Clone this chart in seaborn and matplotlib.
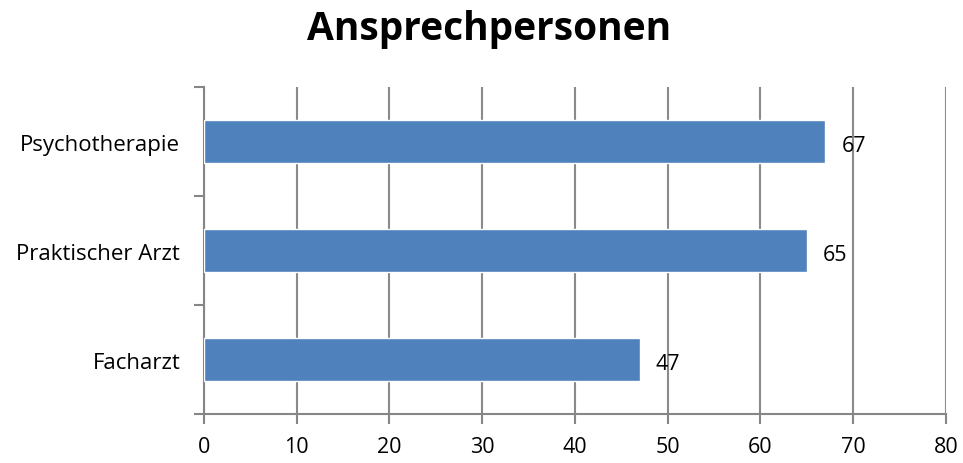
import matplotlib
matplotlib.use("Agg")
import matplotlib.pyplot as plt
import seaborn as sns
import pandas as pd
import numpy as np

categories = ["Psychotherapie", "Praktischer Arzt", "Facharzt"]
values = [67, 65, 47]
xticks = [0, 10, 20, 30, 40, 50, 60, 70, 80]

df = pd.DataFrame({"Kategorie": categories, "Anzahl": values})

sns.set_style("white")
plt.rcParams["font.family"] = ["Open Sans", "DejaVu Sans"]
plt.rcParams["text.color"] = "black"
plt.rcParams["xtick.labelcolor"] = "black"
plt.rcParams["ytick.labelcolor"] = "black"

fig = plt.figure(figsize=(9.63, 4.64), dpi=100)
ax = fig.add_axes([0.2118, 0.1056, 0.7705, 0.7047])

sns.barplot(data=df, x="Anzahl", y="Kategorie", color="#4F81BD", saturation=1,
            width=0.4, ax=ax, zorder=3)

ax.set_xlim(0, 80)
ax.set_ylim(2.5, -0.5)
ax.set_xticks(xticks)
ax.set_xticklabels([str(t) for t in xticks], fontsize=15.5)
ax.tick_params(axis="y", labelsize=16, length=0, pad=17)
ax.set_yticks(np.arange(-0.5, 3, 1), minor=True)
ax.tick_params(axis="y", which="minor", length=7, width=1.5, color="#868686", direction="out", left=True)
ax.tick_params(axis="x", length=7, width=1.5, color="#868686", direction="out", bottom=True, pad=9)
ax.set_xlabel("")
ax.set_ylabel("")

ax.grid(axis="x", color="#8a8a8a", linewidth=1.5, zorder=0)
ax.set_axisbelow(True)
for s in ["top", "right"]:
    ax.spines[s].set_visible(False)
for s in ["left", "bottom"]:
    ax.spines[s].set_color("#868686")
    ax.spines[s].set_linewidth(1.5)

for i, v in enumerate(values):
    ax.annotate(str(v), (v, i), xytext=(11.5, -3), textcoords="offset points",
                va="center", ha="left", fontsize=15.5, color="black", zorder=4)

fig.text(0.508, 0.937, "Ansprechpersonen", fontsize=28, fontweight="bold",
         ha="center", va="center", color="black")

fig.savefig("out.png", dpi=100)
